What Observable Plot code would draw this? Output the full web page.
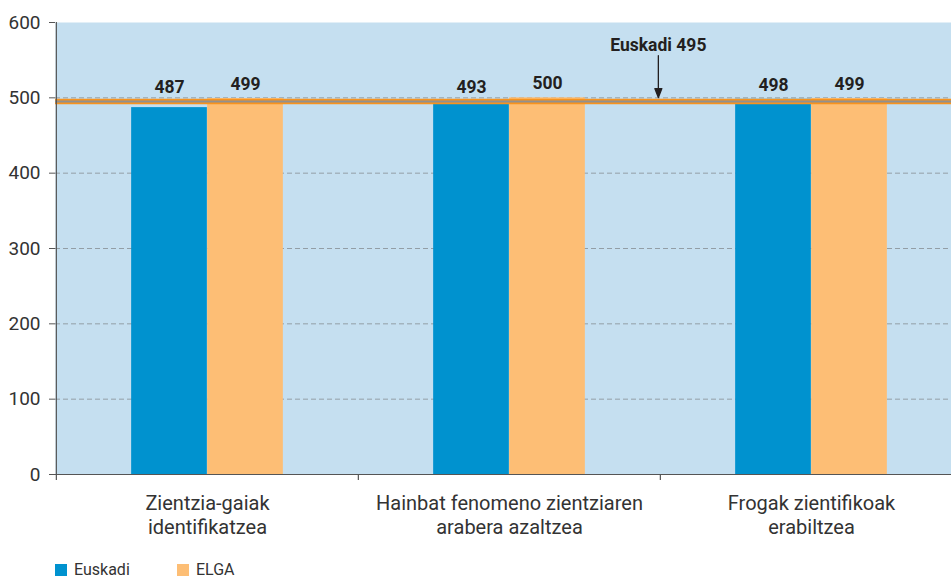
<!DOCTYPE html>
<html>
<head>
<meta charset="utf-8">
<script src="https://cdn.jsdelivr.net/npm/d3@7"></script>
<script src="https://cdn.jsdelivr.net/npm/@observablehq/plot@0.6"></script>
<style>
  body { margin: 0; background: #fff; font-family: Roboto, sans-serif; }
  #wrap { width: 951px; height: 582px; position: relative; overflow: hidden; }
  .legend { position: absolute; left: 55px; top: 561px; font-size: 16px; line-height: 18px; color: #333; }
  .legend .item { display: flex; align-items: center; }
  .legend .sw { width: 12px; height: 12px; margin-right: 7px; }
</style>
</head>
<body>
<div id="wrap"></div>
<script>
const categories = ["Zientzia-gaiak identifikatzea", "Hainbat fenomeno zientziaren arabera azaltzea", "Frogak zientifikoak erabiltzea"];
const tickLabels = ["Zientzia-gaiak\nidentifikatzea", "Hainbat fenomeno zientziaren\narabera azaltzea", "Frogak zientifikoak\nerabiltzea"];
const seriesNames = ["Euskadi", "ELGA"];
const euskadi = [487, 493, 498];
const elga = [499, 500, 499];
const euskadiMean = 495;
const annotationLabel = "Euskadi 495";
const yTicks = [0, 100, 200, 300, 400, 500, 600];
const gridTicks = [100, 200, 300, 400, 500];

const colors = {Euskadi: "#0092cf", ELGA: "#fdbe75"};
const half = 302.3 / 2;
const boldFont = `Roboto, sans-serif`;
const labelSize = 17.5;

const eusData = categories.map((c, i) => ({category: c, value: euskadi[i]}));
const elgaData = categories.map((c, i) => ({category: c, value: elga[i]}));

const chart = Plot.plot({
  width: 951,
  height: 550,
  marginTop: 22,
  marginBottom: 76,
  marginLeft: 55,
  marginRight: 0,
  style: {fontFamily: `Roboto, sans-serif`, fontSize: "19px", color: "#333", overflow: "hidden", background: "#fff"},
  x: {type: "band", domain: categories, range: [55, 962], padding: 0},
  y: {domain: [0, 600]},
  marks: [
    Plot.frame({fill: "#c5dff0", stroke: "none"}),
    Plot.gridY(gridTicks, {stroke: "#939ea6", strokeOpacity: 1, strokeDasharray: "5,3", strokeWidth: 1}),
    Plot.barY(eusData, {x: "category", y: "value", fill: colors.Euskadi, insetLeft: half - 76, insetRight: half}),
    Plot.barY(elgaData, {x: "category", y: "value", fill: colors.ELGA, insetLeft: half, insetRight: half - 76}),
    Plot.ruleY([euskadiMean], {stroke: "#f7931e", strokeWidth: 5.5}),
    Plot.ruleY([euskadiMean], {stroke: "#909090", strokeWidth: 2}),
    Plot.text(eusData, {x: "category", y: d => Math.max(d.value, euskadiMean), text: d => String(d.value), dx: -38, dy: -14, fontFamily: boldFont, fontWeight: "bold", fontSize: labelSize, fill: "#231f20"}),
    Plot.text(elgaData, {x: "category", y: d => Math.max(d.value, euskadiMean), text: d => String(d.value), dx: 38, dy: -14, fontFamily: boldFont, fontWeight: "bold", fontSize: labelSize, fill: "#231f20"}),
    Plot.text([euskadiMean], {x: () => categories[2], y: d => d, text: () => annotationLabel, dx: -half - 2, dy: -56, fontFamily: boldFont, fontWeight: "bold", fontSize: labelSize, fill: "#231f20"}),
    Plot.vector([euskadiMean], {
      x: () => categories[2], y: d => d, dx: -half - 2, dy: -4,
      length: 42, rotate: 180, anchor: "end", stroke: "#231f20", fill: "#231f20", strokeWidth: 1.3,
      shape: {draw(context, l) { context.moveTo(0, 0); context.lineTo(0, -l + 9); context.moveTo(-3.5, -l + 9); context.lineTo(3.5, -l + 9); context.lineTo(0, -l); context.closePath(); }}
    }),
    Plot.ruleY([0], {stroke: "#555", strokeWidth: 1.2}),
    Plot.ruleX(categories, {x: d => d, dx: -half, y1: -8, y2: 0, stroke: "#555", strokeWidth: 1.2}),
    Plot.ruleX([categories[0]], {x: d => d, dx: -half, y1: 0, y2: 600, stroke: "#555", strokeWidth: 1.2}),
    Plot.axisY(yTicks, {tickSize: 6, tickPadding: 9, stroke: "#555", fill: "#333", fontSize: 19, label: null}),
    Plot.axisX({tickSize: 0, tickPadding: 19, tickFormat: (d) => tickLabels[categories.indexOf(d)], fontSize: 20, fill: "#333", lineHeight: 1.17, label: null})
  ]
});

const wrap = document.getElementById("wrap");
wrap.appendChild(chart);
const legend = document.createElement("div");
legend.className = "legend";
seriesNames.forEach((name, i) => {
  const item = document.createElement("div");
  item.className = "item";
  item.style.position = "absolute";
  item.style.left = (i === 0 ? 0 : 122) + "px";
  item.style.top = "0px";
  item.style.whiteSpace = "nowrap";
  const sw = document.createElement("span");
  sw.className = "sw";
  sw.style.background = colors[name];
  const t = document.createElement("span");
  t.textContent = name;
  item.appendChild(sw);
  item.appendChild(t);
  legend.appendChild(item);
});
wrap.appendChild(legend);
</script>
</body>
</html>
